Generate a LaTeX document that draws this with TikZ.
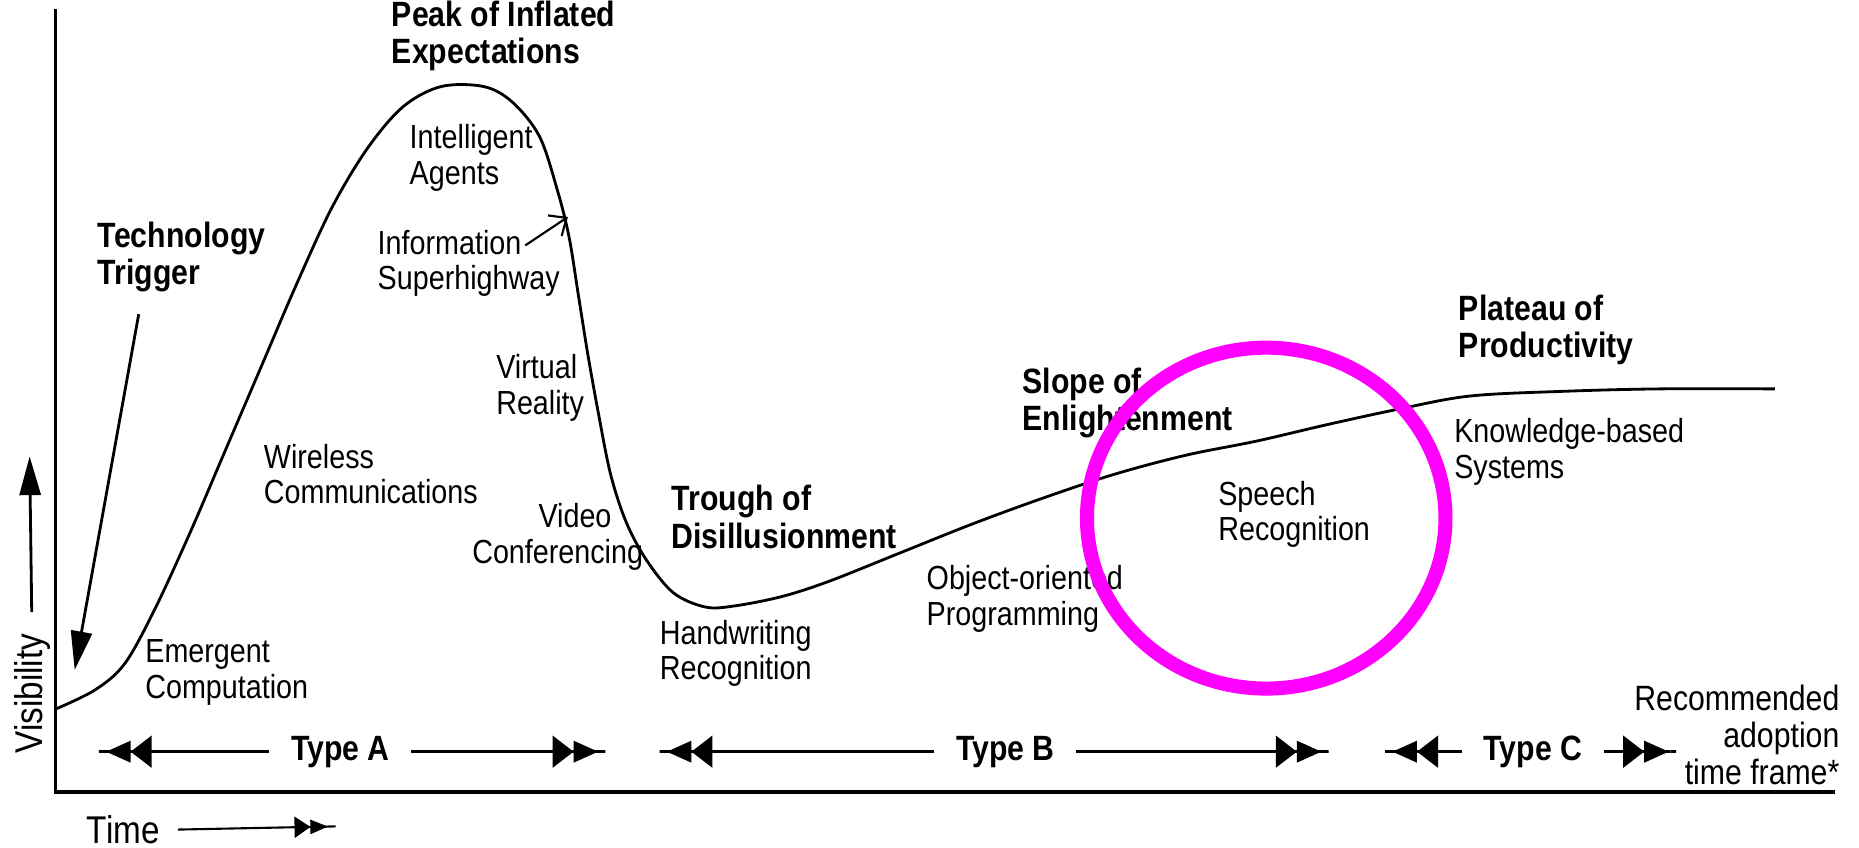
\documentclass[tikz,border=0pt]{standalone}
\usepackage{fontspec}
\usepackage{tikz}
\usetikzlibrary{positioning, calc, arrows.meta, shapes}
\newfontfamily\hypefont{Liberation Sans}[FakeStretch=0.86]
\definecolor{ringMagenta}{RGB}{255,0,255}
\tikzset{
  tech/.style={font=\hypefont\fontsize{9.5}{10.1}\selectfont, inner sep=0pt, anchor=west, align=left},
  phase/.style={tech, font=\hypefont\bfseries\fontsize{10}{10.6}\selectfont},
  typelbl/.style={phase, anchor=center, inner sep=6pt},
  axisline/.style={line width=1pt},
  hype/.style={line width=0.8pt, line join=round},
  spanarrow/.style={line width=0.9pt, -{Triangle[length=6pt,width=9pt,sep=0pt] Triangle[length=7pt,width=6pt,sep=0pt] Rectangle[length=2.5pt,width=0.9pt]}},
  pointer/.style={line width=0.8pt, -{Triangle[length=11pt,width=6pt]}},
  infoarrow/.style={line width=0.6pt, -{Straight Barb[length=4pt,width=7pt]}},
  ring/.style={draw=ringMagenta, line width=4pt}
}
\begin{document}
\begin{tikzpicture}[x=0.011856cm, y=-0.011856cm]

      \useasboundingbox (0,0) rectangle (1568,715);

      % AXES

      \draw[axisline] (47,8) -- (47,668) -- (1548,668);

      % HYPE CURVE

      \draw[hype] plot[smooth, tension=0.55] coordinates {
        (47,598) (80,582) (105,560) (130,515) (160,450) (190,380)
        (220,310) (250,240) (280,175) (310,125) (340,90) (372,73)
        (408,73) (432,86) (455,115) (470,160) (480,200) (488,250)
        (496,300) (505,350) (515,400) (528,440) (545,472) (568,500)
        (595,512) (620,511) (660,503) (700,490) (760,466) (820,442)
        (880,420) (940,400) (1000,384) (1060,372) (1120,358)
        (1180,345) (1240,334) (1320,330) (1400,328) (1497,328)};

      % PHASES

      \node[phase] (peakLabel) at (330,30) {Peak of Inflated\\Expectations};
      \node[phase] (triggerLabel) at (82,217) {Technology\\Trigger};
      \node[phase] (troughLabel) at (566,436) {Trough of\\Disillusionment};
      \node[phase] (slopeLabel) at (862,340) {Slope of\\Enlightenment};
      \node[phase] (plateauLabel) at (1230,278) {Plateau of\\Productivity};

      % TECHNOLOGIES

      \node[tech] (agentsLabel) at (345,133) {Intelligent\\Agents};
      \node[tech] (infoLabel) at (318,222) {Information\\Superhighway};
      \node[tech] (vrLabel) at (418,327) {Virtual\\Reality};
      \node[tech] (wirelessLabel) at (222,400) {Wireless\\Communications};
      \node[tech, anchor=east, align=right] (videoLabel) at (543,453) {Video\hspace*{9pt}\\Conferencing};
      \node[tech] (emergentLabel) at (122,567) {Emergent\\Computation};
      \node[tech] (handLabel) at (556,551) {Handwriting\\Recognition};
      \node[tech] (oopLabel) at (781,505) {Object-oriented\\Programming};
      \node[tech] (speechLabel) at (1027,434) {Speech\\Recognition};
      \node[tech] (kbsLabel) at (1226,381) {Knowledge-based\\Systems};

      % POINTERS

      \coordinate (trigStart) at (117,265);
      \coordinate (trigTip) at (63,565);
      \draw[pointer] (trigStart) -- (trigTip);

      \coordinate (infoStart) at (443,207);
      \coordinate (infoTip) at (479,183);
      \draw[infoarrow] (infoStart) -- (infoTip);

      % HIGHLIGHT

      \node[ring, ellipse, minimum width=102pt, minimum height=97pt, inner sep=0pt] (speechRing) at (1068,437) {};

      % ADOPTION TIME FRAMES

      \node[typelbl] (typeA) at (287,634) {Type A};
      \node[typelbl] (typeB) at (848,634) {Type B};
      \node[typelbl] (typeC) at (1293,634) {Type C};

      \coordinate (aL) at (82,634);
      \coordinate (aR) at (512,634);
      \coordinate (bL) at (555,634);
      \coordinate (bR) at (1122,634);
      \coordinate (cL) at (1167,634);
      \coordinate (cR) at (1415,634);

      \draw[spanarrow] (typeA) -- (aL);
      \draw[spanarrow] (typeA) -- (aR);
      \draw[spanarrow] (typeB) -- (bL);
      \draw[spanarrow] (typeB) -- (bR);
      \draw[spanarrow] (typeC) -- (cL);
      \draw[spanarrow] (typeC) -- (cR);

      \node[tech, anchor=east, align=right, font=\hypefont\fontsize{10}{10.5}\selectfont] (adoptLabel) at (1552,620) {Recommended\\adoption\\time frame*};

      % AXIS LABELS

      \node[tech, anchor=center, rotate=90, font=\hypefont\fontsize{11}{12}\selectfont] (visLabel) at (27,585) {Visibility};
      \coordinate (visTip) at (25,385);
      \draw[pointer, shorten <=6pt] (visLabel.east) -- (visTip);

      \node[tech, anchor=center, font=\hypefont\fontsize{11}{12}\selectfont] (timeLabel) at (104,700) {Time};
      \coordinate (timeTip) at (284,697);
      \draw[line width=0.6pt, -{Triangle[length=4.5pt,width=6pt,sep=0pt] Triangle[length=5pt,width=4pt,sep=0pt] Rectangle[length=2.5pt,width=0.6pt]}, shorten <=5pt] (timeLabel.east) -- (timeTip);

    \end{tikzpicture}
\end{document}
